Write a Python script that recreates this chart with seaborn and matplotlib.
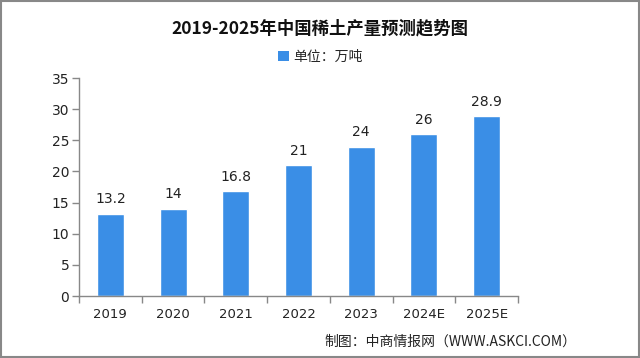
import matplotlib
matplotlib.use("Agg")
import matplotlib.pyplot as plt
import seaborn as sns
import pandas as pd
from matplotlib.patches import Rectangle, Patch

years = ["2019", "2020", "2021", "2022", "2023", "2024E", "2025E"]
values = [13.2, 14, 16.8, 21, 24, 26, 28.9]
value_labels = ["13.2", "14", "16.8", "21", "24", "26", "28.9"]

sns.set_theme(style="white")
plt.rcParams['font.family'] = ['Noto Sans CJK SC', 'DejaVu Sans']

df = pd.DataFrame({"year": years, "value": values})
color = "#3a8ee6"

fig = plt.figure(figsize=(6.4, 3.58), dpi=100)
ax = fig.add_axes([79/640, 1-296/358, (518-79)/640, (296-78)/358])
sns.barplot(data=df, x="year", y="value", color=color, width=0.43, ax=ax, saturation=1)

ax.set_ylim(0, 35)
ax.set_xlim(-0.5, 6.5)
ax.set_yticks(range(0, 36, 5))
ax.set_xlabel("")
ax.set_ylabel("")
for s in ["top", "right"]:
    ax.spines[s].set_visible(False)
for s in ["left", "bottom"]:
    ax.spines[s].set_color("#888888")
    ax.spines[s].set_linewidth(1)

ax.tick_params(axis="y", left=True, length=5, width=1, color="#888888", labelsize=10, pad=2, labelcolor="#222222")
ax.tick_params(axis="x", bottom=False, labelsize=9.5, pad=3, labelcolor="#222222")
for lbl in ax.get_xticklabels() + ax.get_yticklabels():
    lbl.set_family("DejaVu Sans")
# category boundary ticks
ax.set_xticks([i + 0.5 for i in range(-1, 7)], minor=True)
ax.tick_params(axis="x", which="minor", bottom=True, length=5, width=1, color="#888888")

for i, (v, t) in enumerate(zip(values, value_labels)):
    ax.text(i, v + 1.2, t, ha="center", va="bottom", fontsize=10, color="#222222", family="DejaVu Sans")

fig.text(0.5, 1 - 28/358, "2019-2025年中国稀土产量预测趋势图", ha="center", va="center",
         fontsize=12.5, fontweight="bold", color="#111111")
fig.legend(handles=[Patch(facecolor=color, edgecolor="none")], labels=["单位：万吨"],
           loc="center", bbox_to_anchor=(0.5, 1-57/358), frameon=False, fontsize=10,
           handlelength=0.8, handleheight=0.8, handletextpad=0.3)
fig.text(576/640, 1-342/358, "制图：中商情报网（WWW.ASKCI.COM）", ha="right", va="center",
         fontsize=10, color="#222222")

fig.add_artist(Rectangle((0.002, 0.004), 0.996, 0.992, transform=fig.transFigure,
                         fill=False, edgecolor="#888888", linewidth=1.5))

fig.savefig("out.png", dpi=100)
